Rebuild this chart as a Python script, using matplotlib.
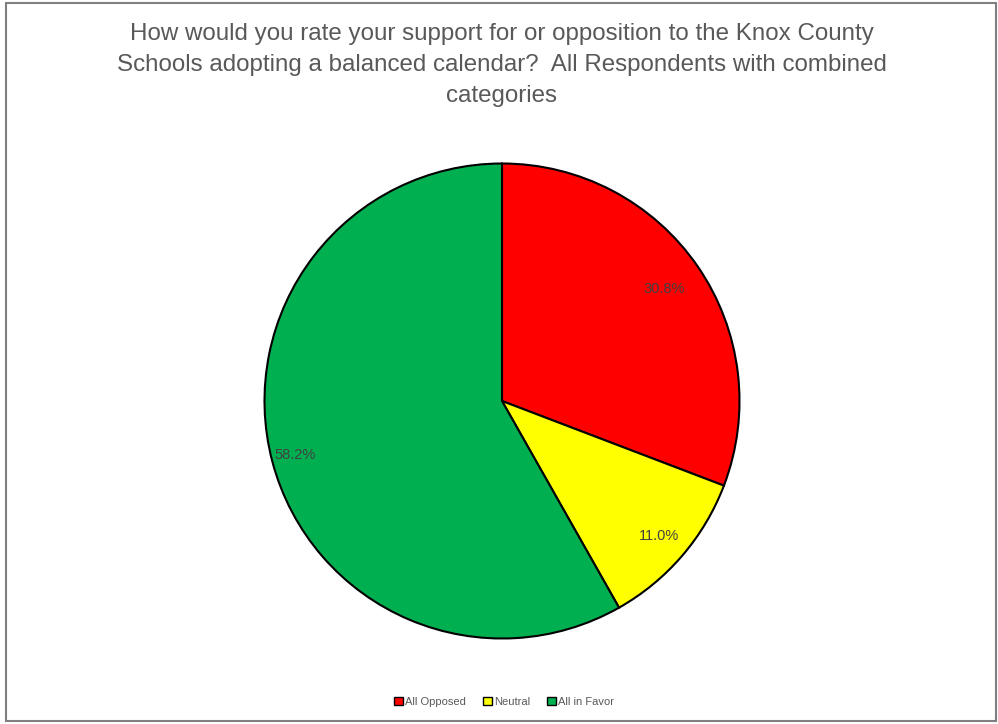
import matplotlib
matplotlib.use("Agg")
import matplotlib.pyplot as plt
from matplotlib.patches import Rectangle
import numpy as np

labels = ["All Opposed", "Neutral", "All in Favor"]
values = [30.8, 11.0, 58.2]
colors = ["#ff0000", "#ffff00", "#00b050"]
label_dist = [0.83, 0.87, 0.90]

title = ("How would you rate your support for or opposition to the Knox County\n"
         "Schools adopting a balanced calendar?  All Respondents with combined\n"
         "categories")

plt.rcParams['font.family'] = ['Liberation Sans', 'DejaVu Sans']

fig = plt.figure(figsize=(9.98, 7.24), dpi=100)
W, H = 998, 724
cx, cy, r = 502, 401, 237.5
ax = fig.add_axes([(cx - r) / W, (H - cy - r) / H, 2 * r / W, 2 * r / H])

wedges, texts, autotexts = ax.pie(
    values, colors=colors, startangle=90, counterclock=False,
    autopct="%.1f%%", pctdistance=0.85, radius=1,
    wedgeprops=dict(edgecolor="black", linewidth=1.5),
    textprops=dict(color="#404040", fontsize=10.5))

for w, t, d in zip(wedges, autotexts, label_dist):
    mid = np.deg2rad((w.theta1 + w.theta2) / 2)
    t.set_position((d * np.cos(mid), d * np.sin(mid)))

ax.set_xlim(-1, 1)
ax.set_ylim(-1, 1)
ax.set_aspect("equal")

fig.text(0.503, 1 - 65 / H, title, ha="center", va="center",
         fontsize=17.4, color="#595959", linespacing=1.54)

handles = [Rectangle((0, 0), 1, 1, facecolor=c, edgecolor="black", linewidth=1) for c in colors]
fig.legend(handles, labels, loc="center", bbox_to_anchor=(0.505, 1 - 702 / H),
           ncol=3, frameon=False, fontsize=8, handlelength=0.8, handleheight=0.8,
           handletextpad=0.2, columnspacing=1.5, labelcolor="#595959")

fig.patches.append(Rectangle((6 / W, 3 / H), 990 / W, 718 / H, transform=fig.transFigure,
                             fill=False, edgecolor="#7f7f7f", linewidth=1.5))

fig.savefig("out.png", dpi=100)
